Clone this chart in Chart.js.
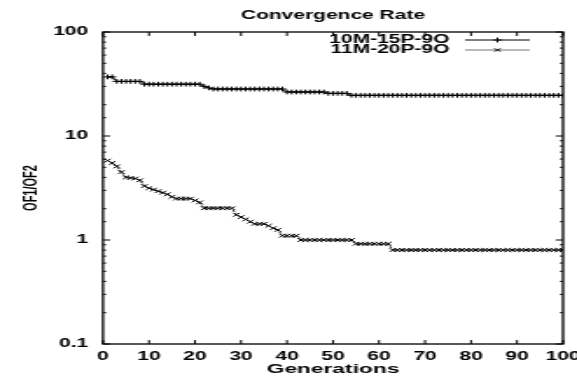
<!DOCTYPE html>
<html>
<head>
<meta charset="utf-8">
<script src="https://cdn.jsdelivr.net/npm/chart.js@4"></script>
<style>
  body { margin: 0; background: #fff; }
</style>
</head>
<body>
<!-- the reference is a horizontally stretched gnuplot picture, so the canvas is too -->
<canvas id="myChart" width="330" height="377" style="width:577px;height:377px;display:block"></canvas>
<script>
var generations = [
  1, 2, 3, 4, 5, 6, 7, 8, 9, 10, 11, 12, 13, 14, 15, 16, 17, 18, 19, 20,
  21, 22, 23, 24, 25, 26, 27, 28, 29, 30, 31, 32, 33, 34, 35, 36, 37, 38, 39, 40,
  41, 42, 43, 44, 45, 46, 47, 48, 49, 50, 51, 52, 53, 54, 55, 56, 57, 58, 59, 60,
  61, 62, 63, 64, 65, 66, 67, 68, 69, 70, 71, 72, 73, 74, 75, 76, 77, 78, 79, 80,
  81, 82, 83, 84, 85, 86, 87, 88, 89, 90, 91, 92, 93, 94, 95, 96, 97, 98, 99, 100
];

var run10M15P = [
  37, 37, 33.5, 33.5, 33.5, 33.5, 33.5, 33.5, 31.5, 31.5,
  31.5, 31.5, 31.5, 31.5, 31.5, 31.5, 31.5, 31.5, 31.5, 31.5,
  31.5, 30, 29, 28.3, 28.3, 28.3, 28.3, 28.3, 28.3, 28.3,
  28.3, 28.3, 28.3, 28.3, 28.3, 28.3, 28.3, 28.3, 28.3, 26.5,
  26.5, 26.5, 26.5, 26.5, 26.5, 26.5, 26.5, 26.5, 25.7, 25.7,
  25.7, 25.7, 25.7, 24.6, 24.6, 24.6, 24.6, 24.6, 24.6, 24.6,
  24.6, 24.6, 24.6, 24.6, 24.6, 24.6, 24.6, 24.6, 24.6, 24.6,
  24.6, 24.6, 24.6, 24.6, 24.6, 24.6, 24.6, 24.6, 24.6, 24.6,
  24.6, 24.6, 24.6, 24.6, 24.6, 24.6, 24.6, 24.6, 24.6, 24.6,
  24.6, 24.6, 24.6, 24.6, 24.6, 24.6, 24.6, 24.6, 24.6, 24.6
];

var run11M20P = [
  5.8, 5.5, 5.1, 4.5, 4.0, 3.95, 3.9, 3.75, 3.3, 3.15,
  3.05, 2.95, 2.85, 2.75, 2.6, 2.5, 2.5, 2.5, 2.5, 2.4,
  2.3, 2.02, 2.02, 2.02, 2.02, 2.02, 2.02, 2.02, 1.75, 1.66,
  1.58, 1.5, 1.43, 1.43, 1.43, 1.37, 1.3, 1.25, 1.1, 1.1,
  1.1, 1.1, 1.0, 1.0, 1.0, 1.0, 1.0, 1.0, 1.0, 1.0,
  1.0, 1.0, 1.0, 1.0, 0.92, 0.92, 0.92, 0.92, 0.92, 0.92,
  0.92, 0.92, 0.8, 0.8, 0.8, 0.8, 0.8, 0.8, 0.8, 0.8,
  0.8, 0.8, 0.8, 0.8, 0.8, 0.8, 0.8, 0.8, 0.8, 0.8,
  0.8, 0.8, 0.8, 0.8, 0.8, 0.8, 0.8, 0.8, 0.8, 0.8,
  0.8, 0.8, 0.8, 0.8, 0.8, 0.8, 0.8, 0.8, 0.8, 0.8
];

var seriesNames = ['10M-15P-9O', '11M-20P-9O'];
var yTickLabels = [0.1, 1, 10, 100];

var font = 'Liberation Sans, Arial, sans-serif';

function isDecade(v) {
  var l = Math.log10(v);
  return Math.abs(l - Math.round(l)) < 1e-6;
}

// box round the plot, inward ticks on all four sides, gnuplot-like key
var framePlugin = {
  id: 'frame',
  afterDraw: function (chart) {
    var ctx = chart.ctx;
    var a = chart.chartArea;
    var xs = chart.scales.x;
    var ys = chart.scales.y;
    ctx.save();
    ctx.strokeStyle = '#000';
    ctx.lineWidth = 1;
    ctx.beginPath();
    xs.ticks.forEach(function (t) {
      var px = xs.getPixelForValue(t.value);
      ctx.moveTo(px, a.bottom); ctx.lineTo(px, a.bottom - 4);
      ctx.moveTo(px, a.top); ctx.lineTo(px, a.top + 4);
    });
    ys.ticks.forEach(function (t) {
      var py = ys.getPixelForValue(t.value);
      var len = isDecade(t.value) ? 4.2 : 1.8;
      ctx.moveTo(a.left, py); ctx.lineTo(a.left + len, py);
      ctx.moveTo(a.right, py); ctx.lineTo(a.right - len, py);
    });
    ctx.stroke();
    ctx.lineWidth = 1.3;
    ctx.strokeRect(a.left, a.top, a.right - a.left, a.bottom - a.top);

    // key
    ctx.font = 'bold 12px ' + font;
    ctx.fillStyle = '#000';
    ctx.textAlign = 'right';
    ctx.textBaseline = 'middle';
    chart.data.datasets.forEach(function (ds, i) {
      var y = 40 + i * 10;
      ctx.fillText(ds.label, 257, y);
      ctx.lineWidth = 1;
      ctx.strokeStyle = i === 0 ? '#000' : '#777';
      ctx.beginPath();
      ctx.moveTo(266, y); ctx.lineTo(303, y);
      ctx.stroke();
      ctx.strokeStyle = '#000';
      ctx.beginPath();
      var cx = 284.5, r = 2.4;
      if (ds.pointStyle === 'cross') {
        ctx.moveTo(cx - r, y); ctx.lineTo(cx + r, y);
        ctx.moveTo(cx, y - r); ctx.lineTo(cx, y + r);
      } else {
        var d = r * 0.707;
        ctx.moveTo(cx - d, y - d); ctx.lineTo(cx + d, y + d);
        ctx.moveTo(cx - d, y + d); ctx.lineTo(cx + d, y - d);
      }
      ctx.stroke();
    });
    ctx.restore();
  }
};

function points(values) {
  return generations.map(function (g, i) { return { x: g, y: values[i] }; });
}

// keep the plot box where gnuplot put it, labels may hang over the edge
function fixHorizontal(h) {
  return function (s) { s.height = h; s.paddingLeft = 0; s.paddingRight = 0; };
}
function fixVertical(w) {
  return function (s) { s.width = w; s.paddingTop = 0; s.paddingBottom = 0; };
}

var ctx = document.getElementById('myChart').getContext('2d');
var chart = new Chart(ctx, {
  type: 'line',
  data: {
    datasets: [
      {
        label: seriesNames[0],
        data: points(run10M15P),
        borderColor: '#000',
        borderWidth: 1,
        pointStyle: 'cross',
        pointRadius: 2.4,
        pointBorderWidth: 1,
        pointBorderColor: '#000',
        tension: 0
      },
      {
        label: seriesNames[1],
        data: points(run11M20P),
        borderColor: '#222',
        borderWidth: 1,
        borderDash: [2, 1],
        pointStyle: 'crossRot',
        pointRadius: 2.6,
        pointBorderWidth: 1,
        pointBorderColor: '#000',
        tension: 0
      }
    ]
  },
  options: {
    responsive: false,
    animation: false,
    devicePixelRatio: 1,
    layout: { padding: 0 },
    plugins: {
      legend: { display: false },
      title: { display: false },
      tooltip: { enabled: false }
    },
    scales: {
      x: {
        type: 'linear',
        position: 'bottom',
        min: 0,
        max: 100,
        grid: { display: false, drawTicks: false },
        border: { display: false },
        ticks: {
          stepSize: 10,
          autoSkip: false,
          maxRotation: 0,
          padding: 5,
          color: '#000',
          font: { family: font, size: 12, weight: 'bold' }
        },
        title: {
          display: true,
          text: 'Generations',
          color: '#000',
          padding: { top: 0, bottom: 0 },
          font: { family: font, size: 13, weight: 'bold' }
        },
        afterFit: fixHorizontal(33)
      },
      x2: {
        type: 'linear',
        position: 'top',
        min: 0,
        max: 100,
        grid: { display: false, drawTicks: false },
        border: { display: false },
        ticks: { display: false },
        title: {
          display: true,
          text: 'Convergence Rate',
          color: '#000',
          padding: { top: 8, bottom: 0 },
          font: { family: font, size: 12, weight: 'bold' }
        },
        afterFit: fixHorizontal(32)
      },
      y: {
        type: 'logarithmic',
        position: 'left',
        min: 0.1,
        max: 100,
        grid: { display: false, drawTicks: false },
        border: { display: false },
        ticks: {
          autoSkip: false,
          padding: 8.5,
          color: '#000',
          font: { family: font, size: 12, weight: 'bold' },
          callback: function (v) {
            for (var i = 0; i < yTickLabels.length; i++) {
              if (Math.abs(v - yTickLabels[i]) < 1e-9) return String(yTickLabels[i]);
            }
            return '';
          }
        },
        title: {
          display: true,
          text: 'OF1/OF2',
          color: '#000',
          padding: { top: 11, bottom: 0 },
          font: { family: font, size: 11, weight: 'bold' }
        },
        afterFit: fixVertical(58.9)
      },
      y2: {
        type: 'logarithmic',
        position: 'right',
        min: 0.1,
        max: 100,
        grid: { display: false, drawTicks: false },
        border: { display: false },
        ticks: { display: false },
        afterFit: fixVertical(8)
      }
    }
  },
  plugins: [framePlugin]
});
</script>
</body>
</html>
